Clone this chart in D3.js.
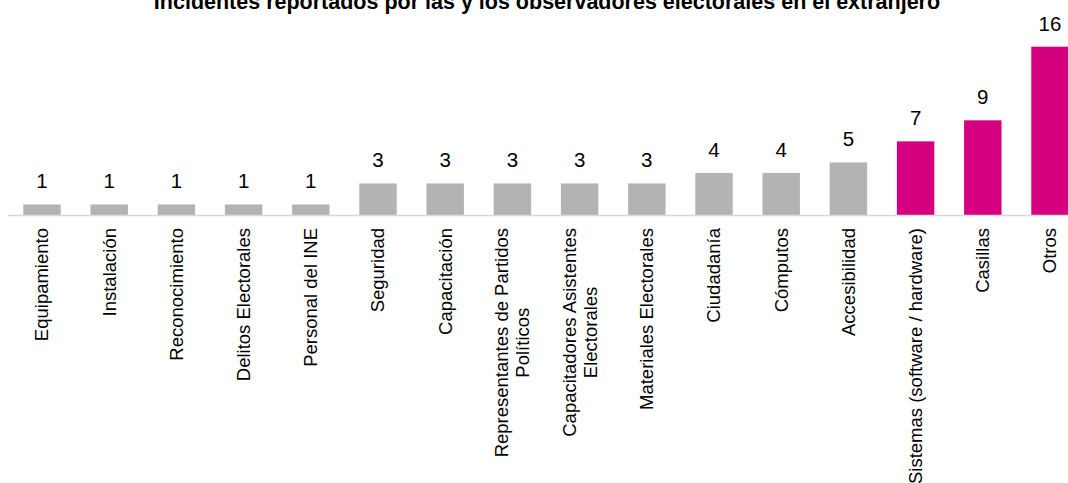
<!DOCTYPE html>
<html>
<head>
<meta charset="utf-8">
<script src="https://cdn.jsdelivr.net/npm/d3@7"></script>
<style>
  html, body { margin: 0; padding: 0; background: #fff; }
  svg { display: block; font-family: "Liberation Sans", Arial, sans-serif; }
</style>
</head>
<body>
<svg id="chart" width="1068" height="483"></svg>
<script>
// categories (line breaks as in the original labels)
const categories = [
  'Equipamiento', 'Instalación', 'Reconocimiento', 'Delitos Electorales',
  'Personal del INE', 'Seguridad', 'Capacitación',
  'Representantes de Partidos\nPolíticos',
  'Capacitadores Asistentes\nElectorales',
  'Materiales Electorales', 'Ciudadanía', 'Cómputos', 'Accesibilidad',
  'Sistemas (software / hardware)', 'Casillas', 'Otros'
];
const values = [1, 1, 1, 1, 1, 3, 3, 3, 3, 3, 4, 4, 5, 7, 9, 16];
const highlighted = ['Sistemas (software / hardware)', 'Casillas', 'Otros'];
const title = 'Incidentes reportados por las y los observadores electorales en el extranjero';

const svg = d3.select('svg#chart');
const baseY = 215;

const x = d3.scaleBand()
  .domain(categories)
  .range([8.4, 1083.6])
  .paddingInner(0.443)
  .paddingOuter(0.2215);

const y = d3.scaleLinear()
  .domain([0, 16])
  .range([baseY, 46.7]);

// title (clipped at the top, like the original)
svg.append('text')
  .attr('x', 547)
  .attr('y', 8.5)
  .attr('text-anchor', 'middle')
  .attr('font-weight', 'bold')
  .attr('font-size', '21.5px')
  .attr('fill', '#000')
  .text(title);

// bars
svg.selectAll('.bar')
  .data(categories)
  .enter()
  .append('rect')
  .attr('class', 'bar')
  .attr('x', (d) => x(d))
  .attr('y', (d, i) => y(values[i]))
  .attr('width', x.bandwidth())
  .attr('height', (d, i) => baseY - y(values[i]))
  .attr('fill', (d) => highlighted.includes(d) ? '#d5007f' : '#b3b3b3');

// baseline
svg.append('line')
  .attr('x1', 8)
  .attr('x2', 1068)
  .attr('y1', baseY + 0.5)
  .attr('y2', baseY + 0.5)
  .attr('stroke', '#d9d9d9')
  .attr('stroke-width', 1.5);

// value labels
svg.selectAll('.val')
  .data(categories)
  .enter()
  .append('text')
  .attr('class', 'val')
  .attr('x', (d) => x(d) + x.bandwidth() / 2)
  .attr('y', (d, i) => y(values[i]) - 16)
  .attr('text-anchor', 'middle')
  .attr('font-size', '20.5px')
  .attr('fill', '#000')
  .text((d, i) => values[i]);

// category labels, rotated
const lab = svg.selectAll('.cat')
  .data(categories)
  .enter()
  .append('g')
  .attr('class', 'cat')
  .attr('transform', (d) => `translate(${x(d) + x.bandwidth() / 2},228) rotate(-90)`);

lab.each(function(d) {
  const g = d3.select(this);
  const lines = d.split('\n');
  const texts = lines.map((line, i) => g.append('text')
    .attr('font-size', '18.5px')
    .attr('fill', '#000')
    .attr('text-anchor', 'middle')
    .attr('y', (i - (lines.length - 1) / 2) * 21)
    .attr('dy', '0.35em')
    .text(line));
  const maxLen = d3.max(texts, (t) => t.node().getComputedTextLength());
  texts.forEach((t) => t.attr('x', -maxLen / 2));
});
</script>
</body>
</html>
